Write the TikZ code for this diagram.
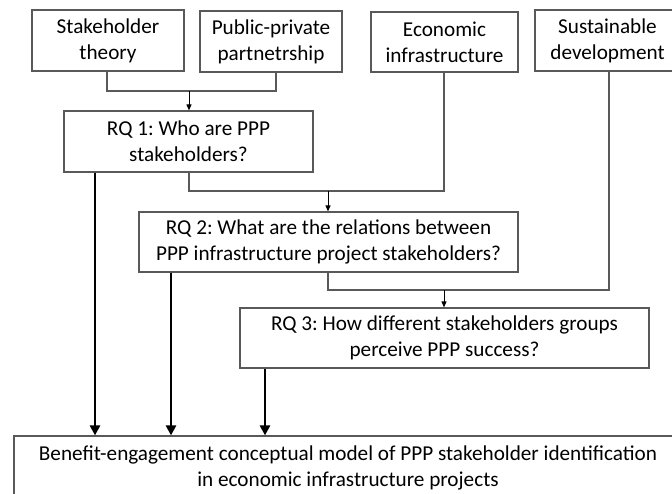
\documentclass[tikz,border=0pt]{standalone}
\usepackage{fontspec}
\setmainfont{Carlito}
\usetikzlibrary{arrows.meta,calc}
\definecolor{edge}{HTML}{595959}
\definecolor{txt}{HTML}{000000}
\begin{document}
\frenchspacing
\begin{tikzpicture}[x=1pt,y=-1pt,
  box/.style={draw=edge,line width=1.2pt,fill=white,inner sep=0pt,align=center,
    text=txt,font=\fontsize{21.2}{26}\selectfont},
  thin/.style={draw=edge,line width=1.1pt},
  thinarr/.style={draw=black,line width=1pt,-{Triangle[length=6pt,width=5pt]}},
  thickarr/.style={draw=black,line width=2.8pt,-{Triangle[length=10pt,width=10pt]}}]
\useasboundingbox (0,0) rectangle (672,493);
\clip (0,0) rectangle (672,493);
\node[box,minimum width=152pt,minimum height=61pt] (st) at (108,40.5) {Stakeholder\\theory};
\node[box,minimum width=142pt,minimum height=61pt] (ppp) at (271,41.5) {Public-private\\partnetrship};
\node[box,minimum width=147pt,minimum height=60pt] (ei) at (444.5,42) {Economic\\infrastructure};
\node[box,minimum width=145pt,minimum height=61pt] (sd) at (607.5,40.5) {Sustainable\\development};
\node[box,minimum width=249pt,minimum height=61pt] (rq1) at (188.5,141.5) {RQ 1: Who are PPP\\stakeholders?};
\node[box,minimum width=379pt,minimum height=60pt] (rq2) at (328.5,242) {RQ 2: What are the relations between\\PPP infrastructure project stakeholders?};
\node[box,minimum width=409pt,minimum height=60pt] (rq3) at (444.5,338) {RQ 3: How different stakeholders groups\\perceive PPP success?};
\node[box,minimum width=668pt,minimum height=64pt] (out) at (348,468) {Benefit-engagement conceptual model of PPP stakeholder identification\\in economic infrastructure projects};
% merge 1
\coordinate (m1) at (189,91);
\coordinate (p1) at (276,0);
\draw[thin] (st.south -| 107,0) |- (m1);
\draw[thin] (ppp.south -| p1) |- (m1);
\draw[thinarr] (m1) -- (rq1.north -| m1);
% merge 2
\coordinate (m2) at (328,191);
\draw[thin] (rq1.south -| 189,0) |- (m2);
\draw[thin] (ei.south -| 444,0) |- (m2);
\draw[thinarr] (m2) -- (rq2.north -| m2);
% merge 3
\coordinate (m3) at (444,290);
\draw[thin] (rq2.south -| 328,0) |- (m3);
\draw[thin] (sd.south -| 609,0) |- (m3);
\draw[thinarr] (m3) -- (rq3.north -| m3);
% thick arrows
\draw[thickarr] (rq1.south -| 95,0) -- (out.north -| 95,0);
\draw[thickarr] (rq2.south -| 171,0) -- (out.north -| 171,0);
\draw[thickarr] (rq3.south -| 265,0) -- (out.north -| 265,0);
\end{tikzpicture}
\end{document}
